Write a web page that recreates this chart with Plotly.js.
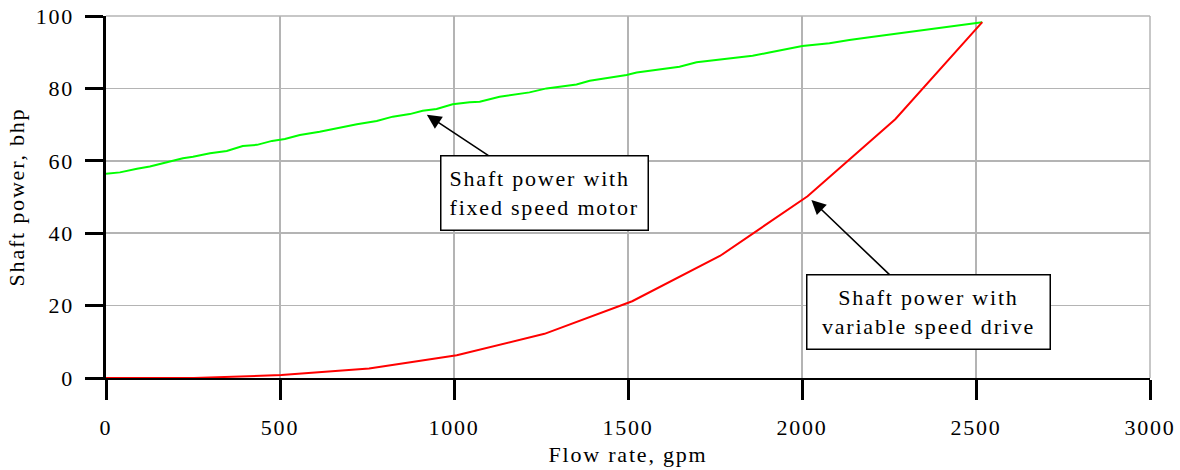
<!DOCTYPE html>
<html>
<head>
<meta charset="utf-8">
<script src="https://cdn.plot.ly/plotly-3.0.1.min.js"></script>
<style>
  html, body { margin: 0; padding: 0; background: #fff; }
  #chart { width: 1180px; height: 470px; }
  #chart svg text { letter-spacing: 1.8px; }
</style>
</head>
<body>
<div id="chart"></div>
<script>
// Fixed speed motor (green)
const fixedFlow = [0, 40, 89, 126, 175, 221, 250, 299, 347, 393, 434, 477, 514, 557, 614, 663, 721, 778, 824, 873, 910, 950, 996, 1045, 1074, 1131, 1217, 1266, 1352, 1390, 1467, 1496, 1525, 1591, 1648, 1697, 1771, 1858, 1906, 1955, 2001, 2079, 2136, 2194, 2518];
const fixedPower = [56.4, 56.8, 57.8, 58.4, 59.6, 60.7, 61.1, 62.1, 62.7, 64.1, 64.4, 65.5, 66.0, 67.1, 68.0, 69.0, 70.1, 71.0, 72.2, 72.9, 73.8, 74.3, 75.6, 76.2, 76.3, 77.7, 78.9, 80.0, 81.1, 82.1, 83.2, 83.7, 84.4, 85.3, 86.0, 87.2, 88.1, 89.0, 89.9, 90.9, 91.7, 92.5, 93.4, 94.1, 98.3];

// Variable speed drive (red)
const vsdFlow = [0, 252, 504, 756, 1008, 1260, 1512, 1764, 2016, 2268, 2518];
const vsdPower = [0, 0, 0.8, 2.6, 6.3, 12.2, 21.2, 33.7, 50.2, 71.5, 98.3];

const xTicks = [0, 500, 1000, 1500, 2000, 2500, 3000];
const yTicks = [0, 20, 40, 60, 80, 100];

const xTitle = "Flow rate, gpm";
const yTitle = "Shaft power, bhp";
const label1 = "Shaft power with<br>fixed speed motor";
const label2 = "Shaft power with<br>variable speed drive";
const label1Point = [922, 72.7];
const label2Point = [2027, 49.2];

const FONT = "Liberation Serif, Times New Roman, serif";
const FS = 22;

const traces = [
  { x: fixedFlow, y: fixedPower, type: "scatter", mode: "lines",
    line: { color: "#00ff00", width: 2 }, hoverinfo: "skip", showlegend: false },
  { x: vsdFlow, y: vsdPower, type: "scatter", mode: "lines",
    line: { color: "#ff0000", width: 2 }, hoverinfo: "skip", showlegend: false }
];

const layout = {
  width: 1180, height: 470,
  margin: { l: 106, r: 30, t: 16, b: 92 },
  paper_bgcolor: "#fff", plot_bgcolor: "#fff",
  font: { family: FONT, size: FS, color: "#000" },
  showlegend: false,
  xaxis: {
    range: [0, 3000], tickvals: xTicks, ticktext: xTicks.map(String),
    ticks: "outside", ticklen: 20, tickwidth: 3, tickcolor: "#000",
    showline: true, linecolor: "#000", linewidth: 2,
    showgrid: true, gridcolor: "#b4b4b4", gridwidth: 1.5,
    zeroline: false, layer: "below traces",
    ticklabelstandoff: 9,
    title: { text: xTitle, font: { family: FONT, size: FS } }
  },
  yaxis: {
    range: [0, 100], tickvals: yTicks, ticktext: yTicks.map(String),
    ticks: "outside", ticklen: 18, tickwidth: 3, tickcolor: "#000",
    showline: true, linecolor: "#000", linewidth: 3.5,
    showgrid: true, gridcolor: "#b4b4b4", gridwidth: 1.5,
    zeroline: false, layer: "below traces",
    ticklabelstandoff: 6, automargin: "left",
    title: { text: yTitle, font: { family: FONT, size: FS }, standoff: 11 }
  },
  shapes: [
    { type: "line", xref: "paper", yref: "paper", x0: 0, x1: 1, y0: 1, y1: 1,
      line: { color: "#b4b4b4", width: 1.5 } },
    { type: "line", xref: "paper", yref: "paper", x0: 1, x1: 1, y0: 0, y1: 1,
      line: { color: "#b4b4b4", width: 1.5 } }
  ],
  annotations: [
    { x: label1Point[0], y: label1Point[1], xref: "x", yref: "y",
      text: label1, align: "left", showarrow: true,
      ax: 118, ay: 78, arrowhead: 2, arrowsize: 1.8, arrowwidth: 1.6, arrowcolor: "#000",
      bordercolor: "#000", borderwidth: 1.5, borderpad: 8, bgcolor: "#fff",
      width: 190, height: 57, font: { family: FONT, size: FS, color: "#000" } },
    { x: label2Point[0], y: label2Point[1], xref: "x", yref: "y",
      text: label2, align: "center", showarrow: true,
      ax: 117, ay: 112, arrowhead: 2, arrowsize: 1.8, arrowwidth: 1.6, arrowcolor: "#000",
      bordercolor: "#000", borderwidth: 1.5, borderpad: 8, bgcolor: "#fff",
      width: 226, height: 57, font: { family: FONT, size: FS, color: "#000" } }
  ]
};

Plotly.newPlot("chart", traces, layout, { staticPlot: true, displayModeBar: false });
</script>
</body>
</html>
